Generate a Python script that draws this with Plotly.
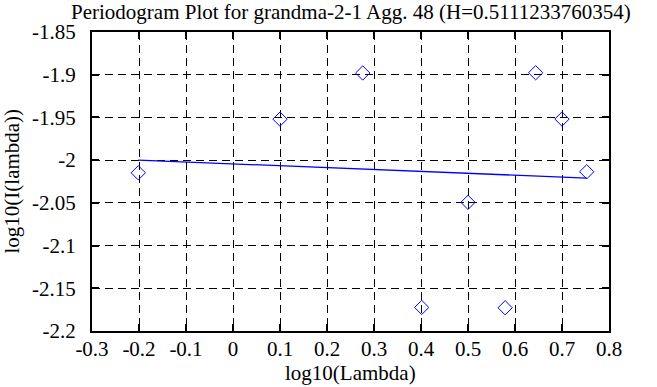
import plotly.graph_objects as go

# Periodogram points (log10 frequency, log10 intensity)
pts_x = [-0.2015, 0.1, 0.276, 0.4015, 0.5, 0.579, 0.644, 0.7, 0.7526]
pts_y = [-2.0148, -1.952, -1.898, -2.1724, -2.0494, -2.1728, -1.8977, -1.9519, -2.0136]

# Fitted regression line end points
fit_x = [-0.2015, 0.7526]
fit_y = [-1.9999, -2.0210]

title_text = "Periodogram Plot for grandma-2-1 Agg. 48 (H=0.5111233760354)"
x_title = "log10(Lambda)"
y_title = "log10(I(lambda))"

xticks = [-0.3, -0.2, -0.1, 0, 0.1, 0.2, 0.3, 0.4, 0.5, 0.6, 0.7, 0.8]
yticks = [-2.2, -2.15, -2.1, -2.05, -2.0, -1.95, -1.9, -1.85]

FONT = "Liberation Serif"
FS = 21

fig = go.Figure()
fig.add_trace(go.Scatter(x=pts_x, y=pts_y, mode="markers",
                         marker=dict(symbol="diamond-open", size=11,
                                     color="#0000ff", line=dict(width=1, color="#0000ff")),
                         showlegend=False))
fig.add_trace(go.Scatter(x=fit_x, y=fit_y, mode="lines",
                         line=dict(color="#0000ff", width=1.3),
                         showlegend=False))

axis_common = dict(
    showline=True, linecolor="black", linewidth=2, mirror="ticks",
    ticks="inside", ticklen=7, tickwidth=1.5, tickcolor="black",
    showgrid=True, gridcolor="black", gridwidth=1, griddash="8px,5px",
    zeroline=False, tickfont=dict(family=FONT, size=FS, color="black"),
)

fig.update_layout(
    width=657, height=387,
    margin=dict(l=92, r=48, t=32, b=56),
    paper_bgcolor="white", plot_bgcolor="white",
    font=dict(family=FONT, size=FS, color="black"),
    xaxis=dict(range=[-0.3, 0.8], tickvals=xticks,
               ticktext=[("%g" % v) for v in xticks], ticklabelstandoff=-2, **axis_common),
    yaxis=dict(range=[-2.2, -1.85], tickvals=yticks,
               ticktext=[("%g" % v) for v in yticks], ticklabelstandoff=10, **axis_common),
    annotations=[
        dict(text=title_text, xref="paper", yref="paper", x=0.5, y=1,
             xanchor="center", yanchor="middle", yshift=20, showarrow=False,
             font=dict(family=FONT, size=FS, color="black")),
        dict(text=x_title, xref="paper", yref="paper", x=0.5, y=0,
             xanchor="center", yanchor="middle", yshift=-42, showarrow=False,
             font=dict(family=FONT, size=FS, color="black")),
        dict(text=y_title, xref="paper", yref="paper", x=0, y=0.5,
             xanchor="center", yanchor="middle", xshift=-81, textangle=-90,
             showarrow=False, font=dict(family=FONT, size=FS, color="black")),
    ],
)

fig.write_html("out.html", config={"displayModeBar": False},
               post_script="document.body.style.margin='0';")
